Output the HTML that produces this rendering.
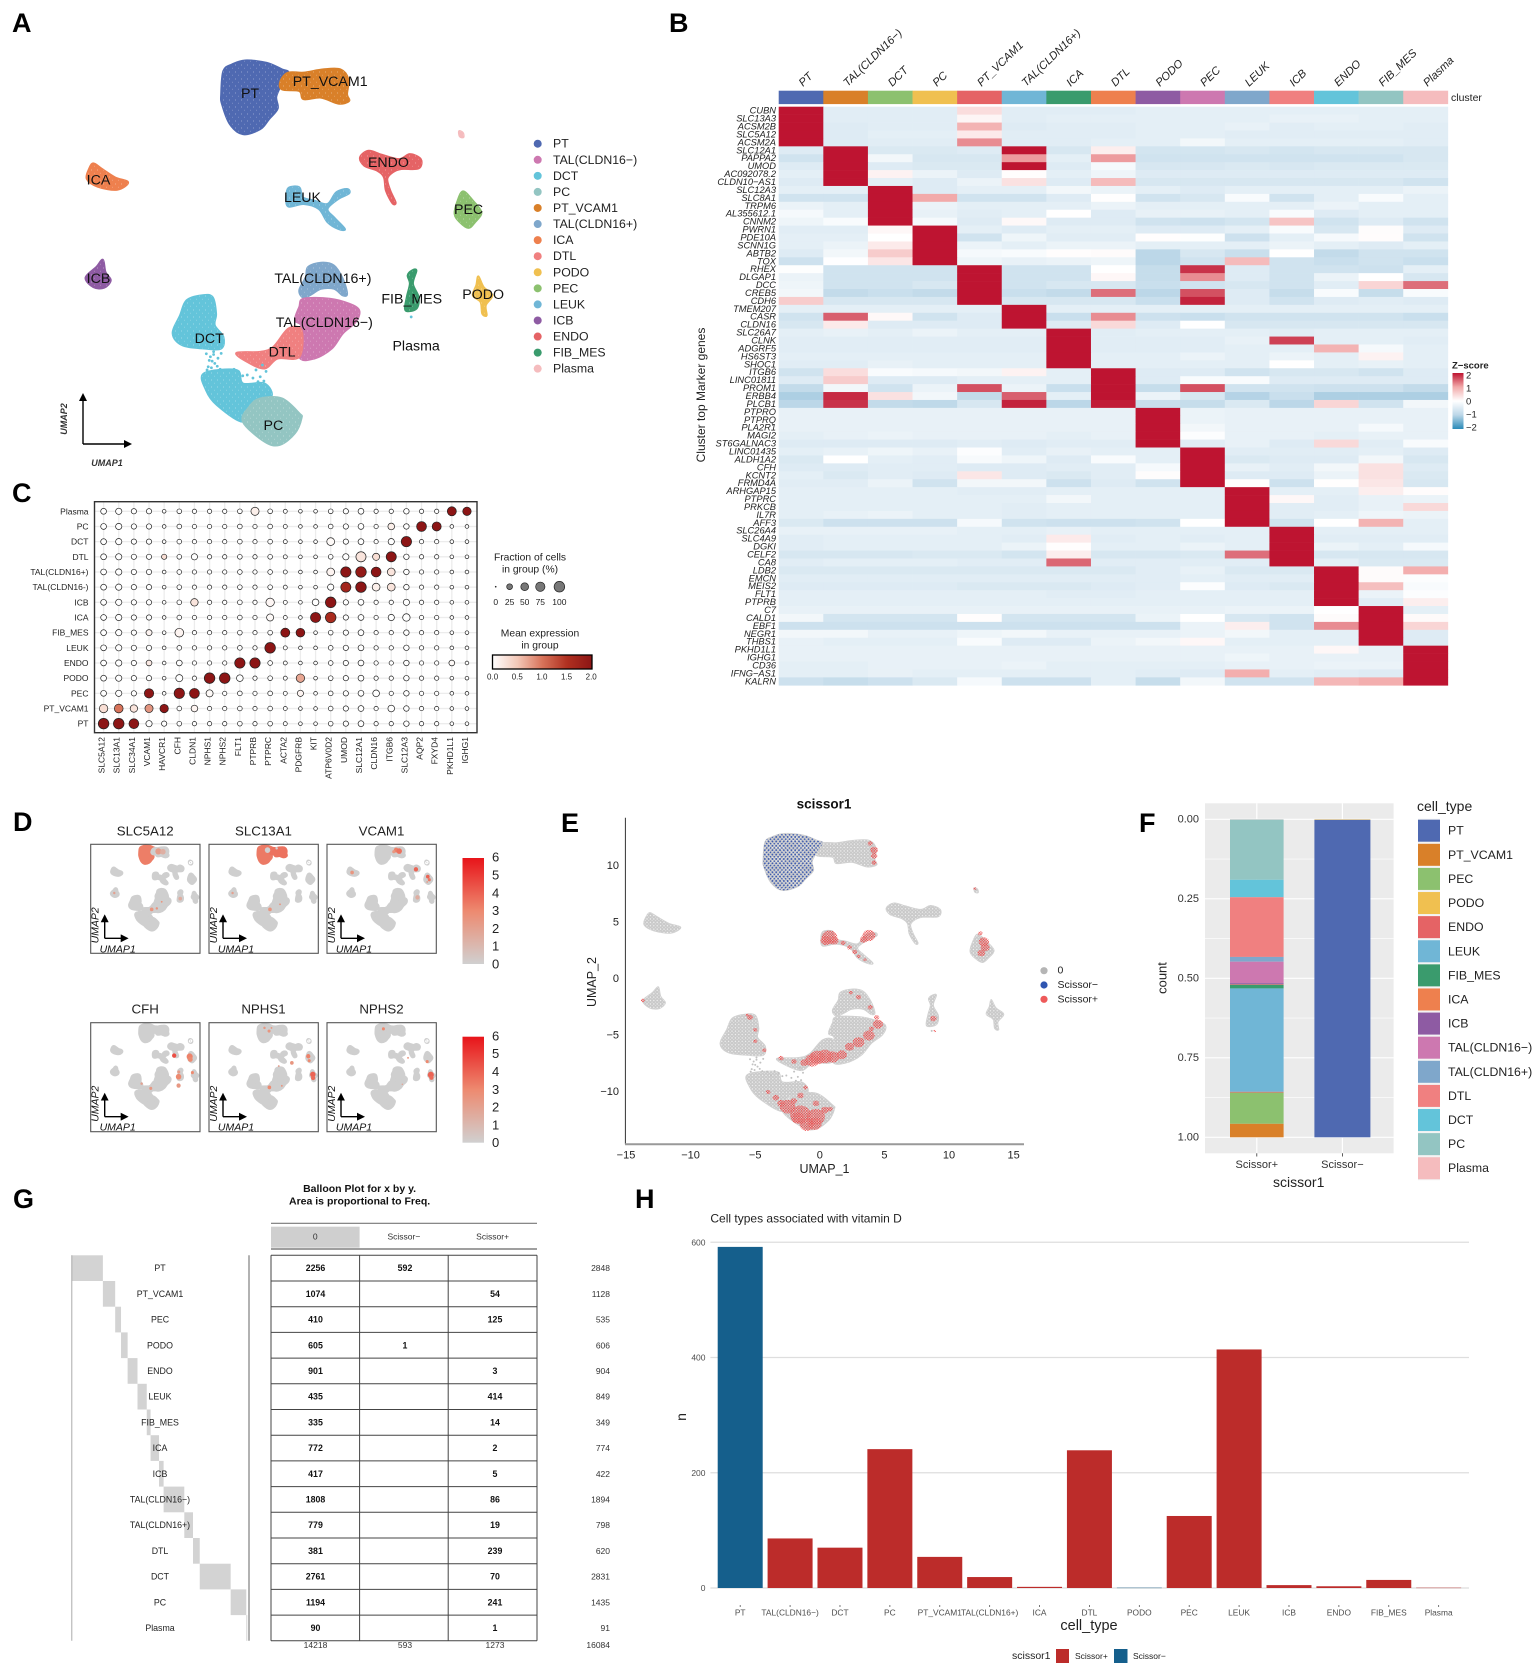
<!DOCTYPE html>
<html lang="en">
<head>
<meta charset="utf-8">
<title>Single-cell kidney atlas figure</title>
<style>
html,body{margin:0;padding:0;background:#fff;width:1535px;height:1663px;overflow:hidden}
svg{display:block;font-family:"Liberation Sans",Arial,sans-serif;fill:#111;filter:blur(.3px)}
.letter{font-size:27px;font-weight:700;fill:#000}
</style>
</head>
<body>
<svg id="figure" xmlns="http://www.w3.org/2000/svg" width="1535" height="1663" viewBox="0 0 1535 1663">
<defs>
<pattern id="speck-a" width="6" height="7" patternUnits="userSpaceOnUse"><circle cx="1.5" cy="2" r=".45" fill="#fff" fill-opacity=".55"/><circle cx="4.5" cy="5.2" r=".4" fill="#fff" fill-opacity=".45"/></pattern>
<pattern id="speck-e" width="3.4" height="3.4" patternUnits="userSpaceOnUse"><circle cx="1" cy="1" r=".7" fill="#fff" fill-opacity=".8"/><circle cx="2.7" cy="2.6" r=".55" fill="#fff" fill-opacity=".65"/></pattern>
<pattern id="blue-dots" width="3.8" height="4.4" patternUnits="userSpaceOnUse"><circle cx="1" cy="1" r=".95" fill="#3a58ad"/><circle cx="2.9" cy="3.2" r=".85" fill="#3a58ad"/></pattern>
<pattern id="red-dots" width="2.6" height="2.6" patternUnits="userSpaceOnUse"><circle cx=".7" cy=".7" r=".85" fill="#ee5050"/><circle cx="2" cy="2" r=".75" fill="#ee5050"/></pattern>
<linearGradient id="zscore-gradient" x1="0" y1="0" x2="0" y2="1"><stop offset="0" stop-color="#be1431"/><stop offset=".25" stop-color="#f2aaaa"/><stop offset=".5" stop-color="#fff"/><stop offset=".75" stop-color="#bcd7e8"/><stop offset="1" stop-color="#2a8ab8"/></linearGradient>
<linearGradient id="mean-gradient" x1="0" y1="0" x2="1" y2="0"><stop offset="0" stop-color="#fff"/><stop offset=".25" stop-color="#f3c8b8"/><stop offset=".5" stop-color="#d8735a"/><stop offset=".75" stop-color="#b03020"/><stop offset="1" stop-color="#8c1515"/></linearGradient>
<linearGradient id="feature-gradient" x1="0" y1="0" x2="0" y2="1"><stop offset="0" stop-color="#e8141a"/><stop offset=".5" stop-color="#ed8a70"/><stop offset="1" stop-color="#d0d0d0"/></linearGradient>
<marker id="arrow-head" markerWidth="8" markerHeight="8" refX="1" refY="4" orient="auto" markerUnits="userSpaceOnUse"><path d="M0,0 L8,4 L0,8 Z" fill="#000"/></marker>
</defs>

<g id="panel-a">
<text class="letter" x="12" y="32">A</text>
<path d="M83,444 V400" stroke="#000" stroke-width="1.4" fill="none" marker-end="url(#arrow-head)"/>
<path d="M83,444 H125" stroke="#000" stroke-width="1.4" fill="none" marker-end="url(#arrow-head)"/>
<text x="64" y="419" transform="rotate(-90 64 419)" text-anchor="middle" dominant-baseline="central" font-size="9" font-style="italic" font-weight="700" fill="#333">UMAP2</text>
<text x="107" y="463" text-anchor="middle" dominant-baseline="central" font-size="9" font-style="italic" font-weight="700" fill="#333">UMAP1</text>
</g>

<g id="panel-b">
<text class="letter" x="669" y="32">B</text>
<text x="701" y="395" transform="rotate(-90 701 395)" text-anchor="middle" dominant-baseline="central" font-size="12" fill="#222">Cluster top Marker genes</text>
<text x="1451" y="98" dominant-baseline="central" font-size="10.5" fill="#222">cluster</text>
<text x="1452" y="366" dominant-baseline="central" font-size="9.5" font-weight="700" fill="#222">Z−score</text>
<rect x="1452.5" y="373" width="11" height="56" fill="url(#zscore-gradient)"/>
<text x="1466" y="376" dominant-baseline="central" font-size="9.5" fill="#222">2</text>
<text x="1466" y="389" dominant-baseline="central" font-size="9.5" fill="#222">1</text>
<text x="1466" y="402" dominant-baseline="central" font-size="9.5" fill="#222">0</text>
<text x="1466" y="415" dominant-baseline="central" font-size="9.5" fill="#222">−1</text>
<text x="1466" y="428" dominant-baseline="central" font-size="9.5" fill="#222">−2</text>
</g>

<g id="panel-c">
<text class="letter" x="12" y="502">C</text>
<text x="530" y="558" text-anchor="middle" dominant-baseline="central" font-size="10.3" fill="#222">Fraction of cells</text>
<text x="530" y="570" text-anchor="middle" dominant-baseline="central" font-size="10.3" fill="#222">in group (%)</text>
<text x="540" y="634" text-anchor="middle" dominant-baseline="central" font-size="10.3" fill="#222">Mean expression</text>
<text x="540" y="646" text-anchor="middle" dominant-baseline="central" font-size="10.3" fill="#222">in group</text>
<rect x="492.5" y="655" width="99.5" height="14" fill="url(#mean-gradient)" stroke="#000" stroke-width="1.3"/>
</g>

<g id="panel-d">
<text class="letter" x="13" y="831">D</text>
<rect x="462.5" y="858" width="21.5" height="106" fill="url(#feature-gradient)"/>
<rect x="462.5" y="1036.7" width="21.5" height="106" fill="url(#feature-gradient)"/>
</g>

<g id="panel-e">
<text class="letter" x="561" y="832">E</text>
<text x="824" y="804" text-anchor="middle" dominant-baseline="central" font-size="13.5" font-weight="700" fill="#111">scissor1</text>
<text x="824.5" y="1169" text-anchor="middle" dominant-baseline="central" font-size="12.5" fill="#222">UMAP_1</text>
<text x="592" y="982" transform="rotate(-90 592 982)" text-anchor="middle" dominant-baseline="central" font-size="12.5" fill="#222">UMAP_2</text>
<circle cx="1044" cy="970.7" r="3.6" fill="#b5b5b5"/>
<circle cx="1044" cy="985" r="3.6" fill="#2f55b0"/>
<circle cx="1044" cy="999.3" r="3.6" fill="#ee5a5a"/>
<text x="1057.5" y="970.7" dominant-baseline="central" font-size="10.5" fill="#222">0</text>
<text x="1057.5" y="985" dominant-baseline="central" font-size="10.5" fill="#222">Scissor−</text>
<text x="1057.5" y="999.3" dominant-baseline="central" font-size="10.5" fill="#222">Scissor+</text>
</g>

<g id="panel-f">
<text class="letter" x="1139" y="832">F</text>
<rect x="1205" y="803.3" width="188.6" height="350" fill="#ebebeb"/>
<text x="1298.7" y="1182" text-anchor="middle" dominant-baseline="central" font-size="14" fill="#222">scissor1</text>
<text x="1162" y="978" transform="rotate(-90 1162 978)" text-anchor="middle" dominant-baseline="central" font-size="13" fill="#222">count</text>
<text x="1417" y="806" dominant-baseline="central" font-size="14" fill="#222">cell_type</text>
</g>

<g id="panel-g">
<text class="letter" x="13" y="1208">G</text>
<text x="359.6" y="1189" text-anchor="middle" dominant-baseline="central" font-size="10.5" font-weight="700" fill="#111">Balloon Plot for x by y.</text>
<text x="359.6" y="1201.7" text-anchor="middle" dominant-baseline="central" font-size="10.5" font-weight="700" fill="#111">Area is proportional to Freq.</text>
</g>

<g id="panel-h">
<text class="letter" x="635" y="1208">H</text>
<text x="710.4" y="1218.7" dominant-baseline="central" font-size="12" fill="#222">Cell types associated with vitamin D</text>
<text x="1089" y="1626" text-anchor="middle" dominant-baseline="central" font-size="14.5" fill="#222">cell_type</text>
<text x="681" y="1417" transform="rotate(-90 681 1417)" text-anchor="middle" dominant-baseline="central" font-size="14" fill="#222">n</text>
<text x="1012" y="1656" dominant-baseline="central" font-size="10.5" fill="#222">scissor1</text>
<rect x="1056" y="1649" width="13" height="14" fill="#bc2c2a"/>
<text x="1075" y="1656" dominant-baseline="central" font-size="8.5" fill="#222">Scissor+</text>
<rect x="1114" y="1649" width="13.5" height="14" fill="#155f8c"/>
<text x="1133" y="1656" dominant-baseline="central" font-size="8.5" fill="#222">Scissor−</text>
</g>
</svg>

<script>
/* ---------- shared data ---------- */
const cellTypes = ["PT","PT_VCAM1","PEC","PODO","ENDO","LEUK","FIB_MES","ICA","ICB","TAL(CLDN16−)","TAL(CLDN16+)","DTL","DCT","PC","Plasma"];
const typeColors = ["#4f69b1","#d98029","#8cc16f","#f0c050","#e56365","#70b6d6","#3a9b6d","#ee804e","#8e5ba3","#cd78b0","#7fa7cb","#f08080","#63c4da","#93c5c2","#f5bcbe"];
const countUnassigned = [2256,1074,410,605,901,435,335,772,417,1808,779,381,2761,1194,90];
const countScissorMinus = [592,0,0,1,0,0,0,0,0,0,0,0,0,0,0];
const countScissorPlus = [0,54,125,0,3,414,14,2,5,86,19,239,70,241,1];

/* UMAP cluster outlines, in UMAP coordinates */
const outlinePT = [[-2.74,12.87],[-1.25,12.71],[-0.21,12.26],[0.24,12.04],[-0.2,11.3],[-0.6,10.4],[-0.5,9.6],[-1.10,8.87],[-1.70,8.19],[-2.89,7.85],[-3.78,8.53],[-4.32,9.89],[-4.38,10.57],[-4.23,12.15],[-3.63,12.60]];
const outlineVCAM = [[0.24,12.04],[1.28,12.04],[2.62,12.26],[3.81,12.26],[4.35,11.58],[4.26,10.57],[4.40,10.11],[3.66,9.93],[2.47,10.34],[1.28,10.23],[0.98,10.79],[-0.21,10.90],[-0.3,11.5]];
const outlineICA = [[-13.15,5.86],[-12.56,5.48],[-11.67,4.91],[-10.77,4.57],[-11.52,4.07],[-12.86,4.28],[-13.60,4.80],[-13.45,5.48]];
const outlineICB = [[-12.5,-0.70],[-12.32,-1.54],[-11.96,-2.10],[-12.41,-2.60],[-13.15,-2.56],[-13.69,-1.92],[-12.95,-1.20]];
const outlineENDO = [[5.15,6.27],[5.74,6.72],[6.64,6.45],[7.83,6.15],[8.57,6.49],[9.32,6.15],[9.17,5.52],[7.98,5.48],[7.38,5.25],[7.02,4.80],[7.23,4.0],[7.59,3.21],[7.38,3.14],[6.93,4.0],[6.79,4.91],[6.34,5.36],[5.45,5.70]];
const outlineLEUK = [[0.24,4.19],[0.98,4.23],[1.22,3.55],[2.02,3.33],[2.92,3.10],[3.51,3.89],[4.26,4.12],[4.40,3.82],[3.66,3.44],[2.92,2.76],[3.36,2.19],[4.11,1.40],[3.66,1.40],[2.92,1.86],[2.32,2.76],[1.28,3.10],[0.24,2.92],[0.09,3.55]];
const outlinePEC = [[12.23,3.96],[12.89,3.33],[13.48,2.53],[13.04,1.86],[12.59,1.47],[12.0,1.86],[11.64,2.42],[11.85,3.33]];
const outlineTALplus = [[2.47,-0.90],[3.36,-1.09],[3.96,-1.99],[4.26,-3.01],[3.96,-3.12],[3.36,-2.67],[2.47,-2.67],[1.88,-3.01],[1.28,-3.28],[0.98,-2.78],[1.43,-1.88],[1.58,-1.20]];
const outlineTALminus = [[1.28,-3.35],[3.07,-3.35],[4.40,-3.69],[5.09,-4.14],[4.85,-4.93],[3.96,-5.72],[3.21,-6.74],[2.02,-7.42],[0.98,-7.31],[1.13,-5.27],[0.68,-4.82],[0.98,-3.91]];
const outlineDTL = [[0.24,-5.38],[1.13,-5.50],[0.98,-7.31],[-0.51,-7.42],[-1.40,-8.10],[-2.59,-7.65],[-3.33,-7.04],[-1.70,-6.97],[-0.80,-6.63]];
const outlineDCTupper = [[-5.71,-3.12],[-4.97,-3.24],[-4.73,-4.37],[-4.82,-5.16],[-4.23,-5.95],[-4.38,-6.74],[-5.57,-6.74],[-7.05,-6.52],[-7.71,-5.72],[-7.20,-4.48],[-6.76,-3.46]];
const outlineDCTlower = [[-5.57,-8.44],[-3.33,-8.21],[-2.89,-9.12],[-1.40,-9.12],[-0.95,-10.02],[-2.44,-10.48],[-2.89,-11.72],[-4.67,-10.59],[-5.42,-9.57]];
const outlinePC = [[-1.70,-10.14],[-0.21,-10.14],[0.98,-11.15],[1.13,-11.49],[0.68,-12.51],[-0.36,-13.30],[-1.40,-13.08],[-2.89,-11.72],[-2.44,-10.70]];
const outlineFIB = [[8.72,-1.43],[9.02,-1.43],[8.78,-2.33],[9.17,-3.24],[9.02,-4.03],[8.27,-4.14],[8.36,-3.24],[8.57,-2.33],[8.42,-1.76]];
const outlinePODO = [[13.27,-1.83],[13.63,-2.56],[14.23,-3.12],[13.78,-3.80],[13.84,-4.48],[13.54,-4.37],[13.42,-3.57],[12.89,-3.12],[13.13,-2.44]];
const outlinePlasma = [[11.95,8.05],[12.2,7.95],[12.25,7.65],[12.0,7.7]];
const umapDrawOrder = ["DCT","DCT","PC","TAL(CLDN16+)","TAL(CLDN16−)","DTL","PT","PT_VCAM1","ICA","ICB","ENDO","LEUK","PEC","FIB_MES","PODO","Plasma"];
const umapOutlines = [outlineDCTupper,outlineDCTlower,outlinePC,outlineTALplus,outlineTALminus,outlineDTL,outlinePT,outlineVCAM,outlineICA,outlineICB,outlineENDO,outlineLEUK,outlinePEC,outlineFIB,outlinePODO,outlinePlasma];
const strayDCT = [[-5.12,-7.30],[-4.82,-7.75],[-4.38,-7.07],[-5.27,-7.98],[-4.08,-8.20],[-3.78,-8.54],[-3.18,-8.32],[-1.99,-8.20],[-1.55,-7.86],[-1.70,-8.66],[-1.85,-9.0],[-2.59,-8.54],[-5.0,-7.6],[-4.6,-7.4],[8.66,-4.59],[-5.4,-7.1],[-5.2,-7.55],[-4.9,-7.15],[-4.65,-7.95],[-5.35,-8.2],[-5.05,-8.05],[-4.45,-8.15],[-4.9,-6.95],[-1.3,-8.3],[-1.45,-8.95],[-2.2,-8.75],[-2.9,-8.6],[-3.5,-8.15]];

/* ---------- helpers ---------- */
const NS = "http://www.w3.org/2000/svg";
function add(parent, tag, attrs, text) {
  const el = document.createElementNS(NS, tag);
  for (const k in attrs) el.setAttribute(k, attrs[k]);
  if (text !== undefined) el.textContent = text;
  parent.appendChild(el);
  return el;
}
function blobPath(pts, x, y) {
  const n = pts.length;
  let d = "M" + x(pts[0][0]).toFixed(2) + "," + y(pts[0][1]).toFixed(2);
  for (let i = 0; i < n; i++) {
    const p0 = pts[(i - 1 + n) % n], p1 = pts[i], p2 = pts[(i + 1) % n], p3 = pts[(i + 2) % n];
    const c1x = x(p1[0]) + (x(p2[0]) - x(p0[0])) / 6, c1y = y(p1[1]) + (y(p2[1]) - y(p0[1])) / 6;
    const c2x = x(p2[0]) - (x(p3[0]) - x(p1[0])) / 6, c2y = y(p2[1]) - (y(p3[1]) - y(p1[1])) / 6;
    d += "C" + c1x.toFixed(2) + "," + c1y.toFixed(2) + " " + c2x.toFixed(2) + "," + c2y.toFixed(2) + " " + x(p2[0]).toFixed(2) + "," + y(p2[1]).toFixed(2);
  }
  return d + "Z";
}
function typeColor(name) { return typeColors[cellTypes.indexOf(name)]; }
function lerpStops(stops, t) {
  for (let i = 1; i < stops.length; i++) {
    if (t <= stops[i][0]) {
      const a = stops[i - 1], b = stops[i], f = (t - a[0]) / (b[0] - a[0]);
      const c = [1, 2, 3].map(j => Math.round(a[j] + (b[j] - a[j]) * f));
      return "rgb(" + c.join(",") + ")";
    }
  }
  const l = stops[stops.length - 1];
  return "rgb(" + l[1] + "," + l[2] + "," + l[3] + ")";
}

/* ---------- Panel A ---------- */
const panelA = document.getElementById("panel-a");
const clusterLabelNames = ["PT","PT_VCAM1","ENDO","ICA","LEUK","PEC","ICB","TAL(CLDN16+)","FIB_MES","PODO","TAL(CLDN16−)","DCT","DTL","Plasma","PC"];
const clusterLabelU = [-2.4,3.1,7.1,-12.8,1.2,12.6,-12.8,2.6,8.7,13.6,2.7,-5.2,-0.2,9.0,-0.8];
const clusterLabelV = [10.6,11.4,5.9,4.7,3.5,2.7,-2,-2,-3.4,-3.1,-5,-6.1,-7,-6.6,-12];
const legendOrderA = ["PT","TAL(CLDN16−)","DCT","PC","PT_VCAM1","TAL(CLDN16+)","ICA","DTL","PODO","PEC","LEUK","ICB","ENDO","FIB_MES","Plasma"];
const ax = u => 285 + 14.57 * u;
const ay = v => 249.5 - 14.69 * v;
umapOutlines.forEach((pts, i) => {
  const name = umapDrawOrder[i];
  const col = typeColor(name);
  const blob = add(panelA, "path", {d: blobPath(pts, ax, ay), fill: col, stroke: col, "stroke-width": 2, "stroke-linejoin": "round"});
  
  
  const speck = add(panelA, "path", {d: blobPath(pts, ax, ay), fill: "url(#speck-a)"});
  
  
});
strayDCT.forEach(p => {
  const dot = add(panelA, "circle", {cx: ax(p[0]), cy: ay(p[1]), r: 1.4, fill: typeColor("DCT")});
  
  
});
clusterLabelNames.forEach((name, i) => {
  const t = add(panelA, "text", {x: ax(clusterLabelU[i]), y: ay(clusterLabelV[i]), "text-anchor": "middle", "dominant-baseline": "central", "font-size": 14.2, fill: "#111"}, name);
  
  
});
legendOrderA.forEach((name, i) => {
  const y = 143.7 + i * 16.07;
  const d = add(panelA, "circle", {cx: 537.7, cy: y, r: 4, fill: typeColor(name)});
  
  
  const t = add(panelA, "text", {x: 553, y: y, "dominant-baseline": "central", "font-size": 12.3, fill: "#222"}, name);
  
  
});

/* ---------- Panel B heatmap ---------- */
const heatColumns = ["PT","TAL(CLDN16−)","DCT","PC","PT_VCAM1","TAL(CLDN16+)","ICA","DTL","PODO","PEC","LEUK","ICB","ENDO","FIB_MES","Plasma"];
const heatGenes = ["CUBN","SLC13A3","ACSM2B","SLC5A12","ACSM2A","SLC12A1","PAPPA2","UMOD","AC092078.2","CLDN10−AS1","SLC12A3","SLC8A1","TRPM6","AL355612.1","CNNM2","PWRN1","PDE10A","SCNN1G","ABTB2","TOX","RHEX","DLGAP1","DCC","CREB5","CDH6","TMEM207","CASR","CLDN16","SLC26A7","CLNK","ADGRF5","HS6ST3","SHOC1","ITGB6","LINC01811","PROM1","ERBB4","PLCB1","PTPRO","PTPRQ","PLA2R1","MAGI2","ST6GALNAC3","LINC01435","ALDH1A2","CFH","KCNT2","FRMD4A","ARHGAP15","PTPRC","PRKCB","IL7R","AFF3","SLC26A4","SLC4A9","DGKI","CELF2","CA8","LDB2","EMCN","MEIS2","FLT1","PTPRB","C7","CALD1","EBF1","NEGR1","THBS1","PKHD1L1","IGHG1","CD36","IFNG−AS1","KALRN"];
const heatValues = [
[2,-.45,-.45,-.45,.4,-.45,-.45,-.45,-.4,-.4,-.4,-.4,-.4,-.4,-.4],
[2,-.45,-.45,-.45,.12,-.45,-.4,-.4,-.4,-.4,-.4,-.35,-.35,-.4,-.4],
[2,-.5,-.45,-.45,.9,-.5,-.45,-.45,-.4,-.4,-.35,-.45,-.4,-.4,-.45],
[2,-.5,-.4,-.4,.25,-.45,-.45,-.45,-.4,-.4,-.45,-.45,-.45,-.45,-.45],
[2,-.5,-.45,-.45,1.2,-.45,-.45,-.4,-.4,-.2,-.4,-.4,-.4,-.4,-.45],
[-.5,2,-.55,-.55,-.5,2,-.6,.2,-.65,-.65,-.6,-.65,-.6,-.6,-.6],
[-.7,2,-.2,-.6,-.6,1.1,-.4,1.1,-.7,-.7,-.7,-.7,-.7,-.7,-.6],
[-.5,2,-.5,-.55,-.55,2,-.5,-.15,-.6,-.6,-.55,-.6,-.55,-.55,-.55],
[-.4,2,.15,-.3,-.5,.02,-.4,-.25,-.5,-.5,-.5,-.5,-.5,-.5,-.5],
[-.5,2,-.4,-.5,-.3,.35,-.5,.8,-.6,-.6,-.6,-.6,-.6,-.6,-.7],
[-.4,-.4,2,-.5,-.4,-.4,-.2,-.3,-.4,-.5,-.4,-.4,-.4,-.4,-.3],
[-.7,-.7,2,1.0,-.7,-.7,-.5,.01,-.7,-.6,-.1,-.7,-.4,-.1,-.4],
[-.3,-.4,2,-.3,-.4,-.4,-.4,-.3,-.4,-.4,-.4,-.4,-.3,-.4,-.4],
[-.15,-.4,2,-.35,-.45,-.4,0,-.5,-.35,-.35,-.4,-.1,-.5,-.4,-.4],
[-.25,-.1,2,-.15,-.5,.08,-.5,-.5,-.7,-.75,-.65,.7,-.7,-.5,-.7],
[-.45,-.45,.1,2,-.4,-.5,-.4,-.4,-.5,-.5,-.4,-.1,-.6,.04,-.5],
[-.4,-.4,0,2,-.7,-.25,-.45,-.45,.02,-.03,-.75,-.4,-.15,.03,-.7],
[-.4,-.3,.25,2,-.3,-.4,-.3,-.3,-.4,-.4,-.4,-.3,-.4,-.5,-.4],
[-.5,-.2,.6,2,-.15,-.1,.02,.05,-1,-.6,-.8,0,-.9,-.7,-.7],
[-.75,-.02,.3,2,-.25,-.35,-.3,-.25,-1,-.7,.8,-.7,-.8,-.7,-.8],
[-.03,-.7,-.7,-.7,2,-.7,-.7,0,-.85,1.8,-.5,-.7,-.7,-.75,-.4],
[-.3,-.7,-.7,-.7,2,-.7,-.7,.1,-.85,1.2,-.5,-.7,-.3,0,-.6],
[-.25,-.7,-.7,-.6,2,-.7,-.6,-.6,-.8,-.7,-.6,-.7,-.45,.5,1.4],
[-.2,-.9,-.8,-.9,2,-.8,-.9,1.4,-1,1.6,-.5,-.85,-.1,-.85,-.1],
[.6,-.6,-.6,-.6,2,-.6,-.6,-.6,-.8,1.9,-.5,-.7,-.5,-.45,-.5],
[-.4,-.4,-.4,-.4,-.4,2,-.4,-.4,-.4,-.4,-.4,-.4,-.4,-.4,-.4],
[-.7,1.5,.08,-.7,-.5,2,-.8,1.2,-.75,-.8,-.7,-.7,-.7,-.7,-.8],
[-.6,.25,-.5,-.5,-.5,2,-.5,.45,-.5,0,-.6,-.6,-.6,-.6,-.6],
[-.4,-.35,-.4,-.3,-.4,-.4,2,-.45,-.4,-.4,-.4,-.45,-.4,-.4,-.4],
[-.45,-.45,-.45,-.45,-.45,-.45,2,-.45,-.45,-.45,-.35,1.7,-.4,-.4,-.45],
[-.45,-.45,-.45,-.45,-.45,-.45,2,-.45,-.45,-.45,-.4,-.4,.9,-.15,-.4],
[-.4,-.4,-.4,-.4,-.4,-.4,2,-.4,-.4,-.3,-.4,-.3,-.4,.15,-.4],
[-.45,-.45,-.35,-.4,-.4,-.4,2,-.4,-.4,-.4,-.4,0,-.4,-.35,-.4],
[-.7,.4,-.1,-.15,-.2,.15,-.4,2,-.5,-.5,-.7,-.6,-.6,-.7,-.5],
[-.5,.6,-.5,-.5,-.4,-.4,-.4,2,-.5,-.1,-.1,-.5,-.5,-.5,-.5],
[-.9,-.2,-.7,-.3,1.6,-.3,-.8,2,-.85,1.6,-.7,-.7,-.75,-.75,-.9],
[-1.1,1.85,.35,-.2,-.9,1.5,-.4,2,-.3,-.6,-1.05,-.8,-1.1,-1.1,-1.1],
[-1,1.8,-.9,-.95,-.6,1.9,-1,1.95,-.8,-.85,-.55,-1,.5,-.7,-.2],
[-.35,-.35,-.35,-.35,-.35,-.35,-.35,-.35,2,-.3,-.35,-.35,-.35,-.35,-.35],
[-.35,-.35,-.35,-.35,-.35,-.35,-.35,-.35,2,-.3,-.35,-.35,-.35,-.35,-.35],
[-.35,-.35,-.35,-.35,-.35,-.35,-.35,-.35,2,-.2,-.35,-.35,-.35,-.15,-.35],
[-.4,-.35,-.3,-.35,-.35,-.35,-.4,-.35,2,-.05,-.35,-.35,-.4,-.35,-.35],
[-.5,-.5,-.5,-.5,-.45,-.5,-.45,-.45,2,-.45,-.35,-.5,.45,-.45,-.1],
[-.4,-.35,-.25,-.35,-.05,-.45,-.35,-.4,-.4,2,-.45,-.45,-.45,-.4,-.5],
[-.55,0,-.4,-.45,-.12,-.25,-.5,-.1,-.4,2,-.55,-.5,-.5,-.2,-.6],
[-.5,-.5,-.45,-.45,-.5,-.5,-.45,-.45,-.15,2,-.35,-.45,-.2,.35,-.5],
[-.4,-.55,-.45,-.5,.3,-.5,-.55,-.45,.04,2,-.5,-.5,-.3,.35,-.55],
[-.45,-.45,-.3,-.7,-.2,-.2,-.75,-.5,-.7,2,.02,-.75,.01,.3,-.6],
[-.4,-.4,-.4,-.4,-.45,-.45,-.4,-.4,-.4,-.4,2,-.4,-.4,.2,.03],
[-.4,-.4,-.4,-.4,-.4,-.4,-.2,-.4,-.4,-.4,2,.1,-.45,-.35,-.3],
[-.4,-.4,-.4,-.4,-.4,-.45,-.4,-.4,-.4,-.4,2,-.45,-.45,-.35,.45],
[-.4,-.35,-.3,-.4,-.4,-.45,-.4,-.4,-.4,-.4,2,-.45,-.4,-.25,-.3],
[-.55,-.75,-.75,-.75,-.15,-.7,-.75,-.75,-.7,0,2,-.7,0,.9,-.4],
[-.35,-.35,-.35,-.35,-.4,-.4,-.35,-.4,-.4,-.4,-.4,2,-.4,-.4,-.4],
[-.45,-.4,-.4,-.4,-.4,-.45,.25,-.45,-.4,-.45,-.4,2,-.45,-.45,-.45],
[-.45,-.4,-.4,-.4,-.4,-.3,.02,-.4,-.4,-.3,-.4,2,-.3,-.4,-.15],
[-.6,-.6,-.6,-.55,-.55,-.65,.2,-.6,-.6,-.55,1.4,2,-.6,-.6,-.6],
[-.45,-.4,-.4,-.4,-.45,-.45,1.45,-.45,-.45,-.45,-.45,2,-.4,-.55,-.55],
[-.55,-.55,-.55,-.55,-.55,-.55,-.55,-.55,-.45,-.35,-.55,-.55,2,.05,.95],
[-.45,-.45,-.45,-.45,-.45,-.45,-.45,-.45,-.45,-.4,-.45,-.45,2,.05,-.05],
[-.5,-.5,-.5,-.5,-.55,-.55,-.55,-.5,-.45,-.05,-.5,-.55,2,.75,-.1],
[-.4,-.4,-.4,-.4,-.4,-.4,-.45,-.45,-.4,-.4,-.4,-.4,2,-.3,-.05],
[-.4,-.4,-.4,-.4,-.4,-.4,-.4,-.4,-.4,-.4,-.4,-.4,2,-.45,.2],
[-.35,-.35,-.35,-.35,-.35,-.35,-.35,-.35,-.35,-.35,-.3,-.3,0,2,-.4],
[-.2,-.65,-.65,-.65,.02,-.65,-.65,-.65,-.3,0,-.6,-.7,.05,2,.06],
[-.75,-.75,-.75,-.75,-.75,-.75,-.75,-.75,-.75,-.3,.2,-.7,1.2,2,.5],
[-.2,-.2,-.35,-.35,-.25,-.2,-.35,-.35,-.35,-.3,-.2,-.4,-.4,2,-.5],
[-.35,-.4,-.4,-.4,-.1,-.5,-.5,-.3,-.2,.1,-.4,-.4,-.4,2,-.5],
[-.35,-.35,-.35,-.35,-.35,-.35,-.35,-.35,-.35,-.35,-.35,-.35,.1,-.35,2],
[-.35,-.35,-.35,-.35,-.35,-.35,-.35,-.35,-.35,-.35,-.25,-.35,-.35,-.35,2],
[-.4,-.4,-.35,-.35,-.35,-.3,-.4,-.4,-.4,-.4,-.35,-.35,-.3,-.3,2],
[-.4,-.4,-.35,-.4,-.4,-.4,-.4,-.4,-.45,-.5,.95,-.4,-.45,-.5,2],
[-.75,-.85,-.75,-.55,-.15,-.75,-.75,-.4,-.85,-.2,-.7,-.7,.85,.95,2]
];
const zStops = [[-2,42,138,184],[-1,188,215,232],[0,255,255,255],[1,242,170,170],[2,190,20,49]];
const panelB = document.getElementById("panel-b");
const heatLeft = 778.7, heatColW = 44.61, heatTop = 106.7, heatRowH = 7.926;
const heatX = c => heatLeft + c * heatColW;
const heatY = r => heatTop + r * heatRowH;
heatColumns.forEach((name, c) => {
  const a = add(panelB, "rect", {x: heatX(c), y: 90.7, width: heatColW + .3, height: 13.4, fill: typeColors[c]});
  
  
  const cx = heatX(c) + heatColW / 2 + 2;
  const t = add(panelB, "text", {x: cx, y: 87, transform: "rotate(-44 " + cx + " 87)", "font-size": 11.2, "font-style": "italic", fill: "#222"}, name);
  
  
});
heatValues.forEach((row, r) => {
  const g = add(panelB, "text", {x: 776, y: heatY(r) + heatRowH / 2, "text-anchor": "end", "dominant-baseline": "central", "font-size": 9.3, "font-style": "italic", fill: "#222"}, heatGenes[r]);
  
  
  row.forEach((val, c) => {
    const cell = add(panelB, "rect", {x: heatX(c), y: heatY(r), width: heatColW + .3, height: heatRowH + .3, fill: lerpStops(zStops, val)});
    
    
  });
});

/* ---------- Panel C dot plot ---------- */
const dotRows = ["Plasma","PC","DCT","DTL","TAL(CLDN16+)","TAL(CLDN16-)","ICB","ICA","FIB_MES","LEUK","ENDO","PODO","PEC","PT_VCAM1","PT"];
const dotGenes = ["SLC5A12","SLC13A1","SLC34A1","VCAM1","HAVCR1","CFH","CLDN1","NPHS1","NPHS2","FLT1","PTPRB","PTPRC","ACTA2","PDGFRB","KIT","ATP6V0D2","UMOD","SLC12A1","CLDN16","ITGB6","SLC12A3","AQP2","FXYD4","PKHD1L1","IGHG1"];
const dotBaseFraction = [25,30,20,20,8,15,12,12,12,15,12,15,10,8,8,15,20,25,12,12,22,12,12,8,8];
/* row index, gene index, fraction %, mean expression */
const dotHighlights = [
[0,10,55,.15],[0,23,70,2],[0,24,60,2],[1,19,35,.15],[1,21,85,2],[1,22,70,2],
[2,15,50,.05],[2,20,95,2],[2,19,30,0],[3,4,20,.3],[3,6,30,0],[3,16,30,0],[3,17,90,.25],[3,18,40,.3],[3,19,90,2],
[4,15,50,.1],[4,16,95,2],[4,17,100,1.9],[4,18,85,2],[4,19,50,.25],[5,15,30,0],[5,16,90,1.7],[5,17,100,2],[5,18,50,.15],[5,19,50,.25],
[6,6,45,.25],[6,11,60,.08],[6,14,35,0],[6,15,100,2],[6,20,30,0],[7,11,40,.05],[7,14,90,2],[7,15,100,1.6],[7,19,30,0],[7,20,45,0],
[8,3,28,.1],[8,5,65,.1],[8,12,70,2],[8,13,65,2],[9,11,100,2],[10,3,25,.2],[10,5,25,0],[10,9,95,2],[10,10,95,2],[10,23,25,.05],
[11,5,40,0],[11,7,100,2],[11,8,100,2],[11,9,35,0],[11,13,60,.7],[12,3,75,2],[12,5,95,2],[12,6,85,2],[12,7,40,.05],[12,13,30,.1],[12,18,35,0],
[13,0,60,.3],[13,1,65,1],[13,2,45,.25],[13,3,55,.8],[13,4,60,2],[13,6,35,.1],[13,19,35,0],[14,0,100,2],[14,1,100,2],[14,2,85,2],[14,3,30,0],[14,4,20,0]
];
const fractionTicks = [0,25,50,75,100];
const meanTicks = [0,.5,1,1.5,2];
const meanStops = [[0,255,255,255],[.5,243,200,184],[1,216,115,90],[1.5,176,48,32],[2,140,21,21]];
const panelC = document.getElementById("panel-c");
const dotX = g => 103.6 + g * 15.14;
const dotY = r => 511.3 + r * 15.17;
const dotR = f => .5 + Math.sqrt(f / 100) * 4.8;
dotRows.forEach((name, r) => {
  const line = add(panelC, "line", {x1: 94.5, x2: 477, y1: dotY(r), y2: dotY(r), stroke: "#ececec", "stroke-width": 1.3});
  
  
  const t = add(panelC, "text", {x: 88.5, y: dotY(r), "text-anchor": "end", "dominant-baseline": "central", "font-size": 8.5, fill: "#222"}, name);
  
  
});
dotGenes.forEach((name, g) => {
  const line = add(panelC, "line", {x1: dotX(g), x2: dotX(g), y1: 502, y2: 732.7, stroke: "#ececec", "stroke-width": 1.3});
  
  
  const tx = dotX(g) - 2, ty = 737;
  const t = add(panelC, "text", {x: tx, y: ty, transform: "rotate(-90 " + tx + " " + ty + ")", "text-anchor": "end", "dominant-baseline": "central", "font-size": 8.5, fill: "#222"}, name);
  
  
});
dotRows.forEach((name, r) => {
  dotGenes.forEach((gene, g) => {
    const hit = dotHighlights.find(h => h[0] === r && h[1] === g);
    const f = hit ? hit[2] : dotBaseFraction[g];
    const e = hit ? hit[3] : 0;
    const dot = add(panelC, "circle", {cx: dotX(g), cy: dotY(r), r: dotR(f), fill: lerpStops(meanStops, e), stroke: "#222", "stroke-width": .7});
    
    
  });
});
const dotFrame = add(panelC, "rect", {x: 94.5, y: 501.7, width: 382.5, height: 231, fill: "none", stroke: "#333", "stroke-width": 1.4});


fractionTicks.forEach((f, i) => {
  const x = [495.7, 509.6, 524.7, 540.3, 559.4][i];
  const d = add(panelC, "circle", {cx: x, cy: 586.7, r: dotR(f), fill: "#777", stroke: "#222", "stroke-width": .7});
  
  
  const t = add(panelC, "text", {x: x, y: 602, "text-anchor": "middle", "dominant-baseline": "central", "font-size": 8.5, fill: "#222"}, f);
  
  
});
meanTicks.forEach(m => {
  const t = add(panelC, "text", {x: 492.6 + m * 49.3, y: 677, "text-anchor": "middle", "dominant-baseline": "central", "font-size": 8, fill: "#222"}, m.toFixed(1));
  
  
});

/* ---------- Panel D feature plots ---------- */
const featureGenes = ["SLC5A12","SLC13A1","VCAM1","CFH","NPHS1","NPHS2"];
const featureFilledClusters = [[["PT",3.3]],[["PT",3.4],["PT_VCAM1",3.6]],[],[],[],[]];
/* spots per gene: u, v, radius, expression */
const spotsSLC5A12 = [[1.5,11.4,1,2.2],[3,11.3,.9,1.4],[-0.7,-7,.6,2.5],[8.7,-3.6,.6,1.5],[2.6,-4.6,.3,2.5],[-13,-1.8,.4,2],[1,-6.7,.4,2.5]];
const spotsSLC13A1 = [[-1.5,11.8,.9,0],[1.5,12.4,.4,0],[-0.7,-7,.6,2.5],[-13,-1.8,.4,2],[2.6,-5.4,.3,2.5]];
const spotsVCAM1 = [[2,11.8,.8,3.2],[3,11.5,.9,3.6],[1.2,11.3,.5,2.5],[-12.5,4.7,.6,2.5],[8.5,5.7,.7,4],[12.4,3.4,.6,4],[12.9,2.4,.5,3.4],[12.2,1.7,.3,2],[9,-3.2,.7,1.5]];
const spotsCFH = [[6.7,3.2,.7,4.5],[11.8,2.9,1,3.2],[12,2,.8,3],[8.15,-3.5,.9,3],[8.2,-2,.5,2.2],[8.15,-6.3,.7,2.4],[12.7,-2.2,.5,3],[-1,-7.2,.5,2.4],[-4,-5.7,.4,2]];
const spotsNPHS1 = [[-2.5,12,.4,2.4],[-1,11,.5,2.5],[-0.2,12,.3,2.5],[11.9,3,.7,3.2],[12.2,1.6,.5,3],[13.4,-2.8,.9,4],[13.5,-3.9,.7,3.8],[-0.9,-6.9,.6,3],[3.2,-6.4,.3,2.5],[6.5,.9,.6,2.5],[2.2,-.1,.3,2]];
const spotsNPHS2 = [[-2.2,11.7,.5,3],[13.4,-2.9,1,4],[13.6,-3.8,.7,3.8],[12.2,1.3,.5,3],[5.9,2.5,.3,2.5],[4,-5.9,.2,2.5]];
const featureSpots = [spotsSLC5A12,spotsSLC13A1,spotsVCAM1,spotsCFH,spotsNPHS1,spotsNPHS2];
const featureTicks = [0,1,2,3,4,5,6];
const featureStops = [[0,208,208,208],[3,237,138,112],[6,232,20,26]];
const panelD = document.getElementById("panel-d");
const featureLeft = [90.7,209,327,90.7,209,327];
const featureTop = [844.3,844.3,844.3,1022.7,1022.7,1022.7];
featureGenes.forEach((gene, i) => {
  const px = featureLeft[i], py = featureTop[i];
  const fx = u => px + 63.1 + 3.04 * u;
  const fy = v => py + 43 - 3.15 * v;
  const g = add(panelD, "g", {});
  
  
  const title = add(g, "text", {x: px + 54.5, y: py - 13.5, "text-anchor": "middle", "dominant-baseline": "central", "font-size": 13.3, fill: "#222"}, gene);
  
  
  umapOutlines.forEach((pts, k) => {
    const name = umapDrawOrder[k];
    const filled = featureFilledClusters[i].find(f => f[0] === name);
    const col = filled ? lerpStops(featureStops, filled[1]) : "#cfcfcf";
    const b = add(g, "path", {d: blobPath(pts, fx, fy), fill: col, stroke: col, "stroke-width": 4.6, "stroke-linejoin": "round"});
    
    
  });
  featureSpots[i].forEach(s => {
    const sp = add(g, "ellipse", {cx: fx(s[0]), cy: fy(s[1]), rx: s[2] * 3.04, ry: s[2] * 3.15, fill: lerpStops(featureStops, s[3])});
    
    
  });
  const frame = add(g, "rect", {x: px, y: py, width: 109.3, height: 109, fill: "none", stroke: "#555", "stroke-width": 1.1});
  
  
  const up = add(g, "path", {d: "M" + (px + 14) + "," + (py + 94) + "V" + (py + 77), stroke: "#000", "stroke-width": 1.4, fill: "none", "marker-end": "url(#arrow-head)"});
  
  
  const right = add(g, "path", {d: "M" + (px + 14) + "," + (py + 94) + "H" + (px + 31), stroke: "#000", "stroke-width": 1.4, fill: "none", "marker-end": "url(#arrow-head)"});
  
  
  const u2 = add(g, "text", {x: px + 5, y: py + 81, transform: "rotate(-90 " + (px + 5) + " " + (py + 81) + ")", "text-anchor": "middle", "dominant-baseline": "central", "font-size": 10.5, "font-style": "italic", fill: "#111"}, "UMAP2");
  
  
  const u1 = add(g, "text", {x: px + 27, y: py + 105, "text-anchor": "middle", "dominant-baseline": "central", "font-size": 10.5, "font-style": "italic", fill: "#111"}, "UMAP1");
  
  
});
[858, 1036.7].forEach(top => {
  featureTicks.forEach(k => {
    const t = add(panelD, "text", {x: 492, y: top + 106 - k * 17.8, "dominant-baseline": "central", "font-size": 13, fill: "#222"}, k);
    
    
  });
});

/* ---------- Panel E ---------- */
const eTicksX = [-15,-10,-5,0,5,10,15];
const eTicksY = [-10,-5,0,5,10];
/* Scissor+ cell patches: u, v, radius */
const scissorPlusSpots = [[0.75,3.69,.6],[0.45,3.4,.4],[1.1,3.4,.35],[3.8,3.85,.5],[3.4,3.5,.3],[1.8,3.2,.2],[2.3,2.8,.2],[2.7,2.4,.2],[3.0,2.0,.15],[3.5,1.7,.12],[12.7,3.3,.4],[12.8,2.8,.35],[12.5,2.3,.3],[12.42,4.04,.18],[4.2,11.4,.3],[4.2,10.9,.25],[4.2,10.3,.2],[3.9,12.0,.2],[-0.6,-7.2,.55],[-0.2,-6.95,.6],[0.4,-6.85,.6],[1.0,-6.9,.5],[1.7,-6.7,.4],[2.3,-6.0,.35],[3.0,-5.6,.45],[3.8,-5,.45],[4.5,-4,.4],[-1.2,-7.4,.3],[-3,-7,.2],[-2,-7.3,.2],[3.0,-1.6,.2],[3.9,-2.5,.2],[2.4,-1.2,.15],[4.4,-3.4,.2],[4.0,-4.4,.2],[-5.4,-3.4,.22],[-5.0,-4.5,.16],[-5.0,-5.5,.16],[-4.3,-6.3,.16],[-5.6,-3.2,.14],[-1,-12.9,.55],[-0.4,-12.8,.55],[-1.7,-12.3,.5],[-1.5,-12,.8],[-2.5,-11.3,.6],[-0.3,-12.2,.7],[0.4,-11.6,.3],[0.8,-11.5,.2],[-3,-11,.3],[-3.4,-10.5,.25],[-1.5,-10.3,.25],[-1.1,-9.6,.18],[-0.3,-11,.25],[-2,-10.8,.25],[-4,-10,.18],[-13.7,-1.9,.15],[8.8,-3.5,.25],[8.9,-4.6,.1],[12,8,.12]];
const panelE = document.getElementById("panel-e");
const ex = u => 819.8 + 12.92 * u;
const ey = v => 979 - 11.3 * v;
umapOutlines.forEach((pts, i) => {
  const name = umapDrawOrder[i];
  const b = add(panelE, "path", {d: blobPath(pts, ex, ey), fill: "#c8c8c8", stroke: "#cfcfcf", "stroke-width": 1.2, "stroke-linejoin": "round"});
  
  
  const s = add(panelE, "path", {d: blobPath(pts, ex, ey), fill: "url(#speck-e)"});
  
  
});
const blueRegion = add(panelE, "path", {d: blobPath(outlinePT, ex, ey), fill: "url(#blue-dots)"});


strayDCT.forEach(p => {
  const d = add(panelE, "circle", {cx: ex(p[0]), cy: ey(p[1]), r: 1, fill: "#c2c2c2"});
  
  
});
scissorPlusSpots.forEach(s => {
  const e = add(panelE, "ellipse", {cx: ex(s[0]), cy: ey(s[1]), rx: s[2] * 12.92, ry: s[2] * 11.3, fill: "url(#red-dots)"});
  
  
});
const eyAxis = add(panelE, "line", {x1: 625.4, x2: 625.4, y1: 817.7, y2: 1144.3, stroke: "#333", "stroke-width": 1});


const exAxis = add(panelE, "line", {x1: 625, x2: 1024, y1: 1144.3, y2: 1144.3, stroke: "#999", "stroke-width": 2});


eTicksX.forEach(k => {
  const t = add(panelE, "text", {x: ex(k), y: 1155.5, "text-anchor": "middle", "dominant-baseline": "central", "font-size": 11, fill: "#222"}, String(k).replace("-", "−"));
  
  
});
eTicksY.forEach(k => {
  const t = add(panelE, "text", {x: 619, y: ey(k), "text-anchor": "end", "dominant-baseline": "central", "font-size": 11, fill: "#222"}, String(k).replace("-", "−"));
  
  
});

/* ---------- Panel F ---------- */
const fTicks = [0,.25,.5,.75,1];
const fGroups = ["Scissor+","Scissor−"];
const panelF = document.getElementById("panel-f");
const fy = s => 819.3 + 318 * s;
const fCenters = [1256.8, 1342.4];
[.125,.375,.625,.875].forEach(s => {
  const l = add(panelF, "line", {x1: 1205, x2: 1393.6, y1: fy(s), y2: fy(s), stroke: "#fff", "stroke-width": .6});
  
  
});
fTicks.forEach(s => {
  const l = add(panelF, "line", {x1: 1205, x2: 1393.6, y1: fy(s), y2: fy(s), stroke: "#fff", "stroke-width": 1.2});
  
  
  const t = add(panelF, "text", {x: 1199, y: fy(s), "text-anchor": "end", "dominant-baseline": "central", "font-size": 11, fill: "#333"}, s.toFixed(2));
  
  
});
[countScissorPlus, countScissorMinus].forEach((counts, b) => {
  const vg = add(panelF, "line", {x1: fCenters[b], x2: fCenters[b], y1: 803.3, y2: 1153.3, stroke: "#fff", "stroke-width": 1.2});
  
  
  const total = counts.reduce((a, c) => a + c, 0);
  let acc = 0;
  for (let i = cellTypes.length - 1; i >= 0; i--) {
    if (!counts[i]) continue;
    const share = counts[i] / total;
    const r = add(panelF, "rect", {x: fCenters[b] - (b ? 28 : 26.8), y: fy(acc), width: b ? 56 : 53.6, height: share * 318, fill: typeColors[i]});
    
    
    acc += share;
  }
  const tick = add(panelF, "line", {x1: fCenters[b], x2: fCenters[b], y1: 1153.3, y2: 1156.5, stroke: "#333", "stroke-width": .8});
  
  
  const t = add(panelF, "text", {x: fCenters[b], y: 1165, "text-anchor": "middle", "dominant-baseline": "central", "font-size": 11, fill: "#333"}, fGroups[b]);
  
  
});
cellTypes.forEach((name, i) => {
  const y = 830.7 + i * 24.11;
  const bg = add(panelF, "rect", {x: 1418, y: y - 12, width: 22, height: 24, fill: "#f2f2f2"});
  
  
  const k = add(panelF, "rect", {x: 1418, y: y - 11, width: 22, height: 22, fill: typeColors[i]});
  
  
  const t = add(panelF, "text", {x: 1448, y: y, "dominant-baseline": "central", "font-size": 12.3, fill: "#222"}, name);
  
  
});

/* ---------- Panel G ---------- */
const balloonColumns = ["0","Scissor−","Scissor+"];
const panelG = document.getElementById("panel-g");
const tableCols = [271, 359.6, 448.2, 537];
const tableTop = 1255.3, tableRowH = 25.7;
const valueCenters = [315.5, 405, 495];
const rowTotals = cellTypes.map((_, i) => countUnassigned[i] + countScissorMinus[i] + countScissorPlus[i]);
const grandTotal = rowTotals.reduce((a, c) => a + c, 0);
const gBarX = c => 71.8 + 175.5 * c / grandTotal;
let cumulative = 0;
cellTypes.forEach((name, i) => {
  const y = tableTop + i * tableRowH;
  const bar = add(panelG, "rect", {x: gBarX(cumulative), y: y, width: gBarX(cumulative + rowTotals[i]) - gBarX(cumulative), height: tableRowH, fill: "#d3d3d3"});
  
  
  cumulative += rowTotals[i];
  const t = add(panelG, "text", {x: 160, y: y + tableRowH / 2, "text-anchor": "middle", "dominant-baseline": "central", "font-size": 8.8, fill: "#222"}, name);
  
  
  [countUnassigned, countScissorMinus, countScissorPlus].forEach((col, c) => {
    if (!col[i]) return;
    const v = add(panelG, "text", {x: valueCenters[c], y: y + tableRowH / 2, "text-anchor": "middle", "dominant-baseline": "central", "font-size": 8.8, "font-weight": 700, fill: "#111"}, col[i]);
    
    
  });
  const tot = add(panelG, "text", {x: 610, y: y + tableRowH / 2, "text-anchor": "end", "dominant-baseline": "central", "font-size": 8.5, fill: "#333"}, rowTotals[i]);
  
  
  const rowLine = add(panelG, "line", {x1: 271, x2: 537, y1: y, y2: y, stroke: "#444", "stroke-width": 1});
  
  
});
const tableBottomY = tableTop + 15 * tableRowH;
const tableBottom = add(panelG, "line", {x1: 271, x2: 537, y1: tableBottomY, y2: tableBottomY, stroke: "#444", "stroke-width": 1});


tableCols.forEach(x => {
  const l = add(panelG, "line", {x1: x, x2: x, y1: tableTop, y2: tableBottomY, stroke: "#444", "stroke-width": 1});
  
  
});
const gLeft = add(panelG, "line", {x1: 71.8, x2: 71.8, y1: tableTop, y2: tableBottomY, stroke: "#aaa", "stroke-width": 1});


const gRight = add(panelG, "line", {x1: 249, x2: 249, y1: tableTop, y2: tableBottomY, stroke: "#666", "stroke-width": 1});


const gHeadBar = add(panelG, "rect", {x: 271, y: 1226.7, width: 88.6, height: 21, fill: "#cfcfcf"});


const gTop = add(panelG, "line", {x1: 271, x2: 537, y1: 1223.3, y2: 1223.3, stroke: "#777", "stroke-width": 1.2});


const gHeadBottom = add(panelG, "line", {x1: 271, x2: 537, y1: 1249, y2: 1249, stroke: "#666", "stroke-width": 1.2});


[countUnassigned, countScissorMinus, countScissorPlus].forEach((col, c) => {
  const head = add(panelG, "text", {x: (tableCols[c] + tableCols[c + 1]) / 2, y: 1236.3, "text-anchor": "middle", "dominant-baseline": "central", "font-size": 8.5, fill: "#333"}, balloonColumns[c]);
  
  
  const sum = col.reduce((a, v) => a + v, 0);
  const t = add(panelG, "text", {x: valueCenters[c], y: 1645, "text-anchor": "middle", "dominant-baseline": "central", "font-size": 8.5, fill: "#333"}, sum);
  
  
});
const grand = add(panelG, "text", {x: 610, y: 1645, "text-anchor": "end", "dominant-baseline": "central", "font-size": 8.5, fill: "#333"}, grandTotal);



/* ---------- Panel H ---------- */
const barOrder = ["PT","TAL(CLDN16−)","DCT","PC","PT_VCAM1","TAL(CLDN16+)","ICA","DTL","PODO","PEC","LEUK","ICB","ENDO","FIB_MES","Plasma"];
const barTicks = [0,200,400,600];
const panelH = document.getElementById("panel-h");
const hy = n => 1588 - n * .5762;
const hx = i => 740.2 + i * 49.89;
barTicks.forEach(k => {
  const l = add(panelH, "line", {x1: 710.4, x2: 1469, y1: hy(k), y2: hy(k), stroke: "#dedede", "stroke-width": 1.3});
  
  
  const t = add(panelH, "text", {x: 705.5, y: hy(k), "text-anchor": "end", "dominant-baseline": "central", "font-size": 8.5, fill: "#4d4d4d"}, k);
  
  
});
barOrder.forEach((name, i) => {
  const idx = cellTypes.indexOf(name);
  const plus = countScissorPlus[idx], minus = countScissorMinus[idx];
  if (minus) {
    const b = add(panelH, "rect", {x: hx(i) - 22.5, y: hy(minus), width: 45, height: Math.max(.8, minus * .5762), fill: "#155f8c", "fill-opacity": minus < 5 ? .5 : 1});
    
    
  }
  if (plus) {
    const b = add(panelH, "rect", {x: hx(i) - 22.5, y: hy(plus), width: 45, height: Math.max(.8, plus * .5762), fill: "#bc2c2a", "fill-opacity": plus < 2 ? .5 : 1});
    
    
  }
  const m = add(panelH, "line", {x1: hx(i), x2: hx(i), y1: 1605, y2: 1607, stroke: "#555", "stroke-width": .8});
  
  
  const t = add(panelH, "text", {x: hx(i), y: 1612.3, "text-anchor": "middle", "dominant-baseline": "central", "font-size": 8.4, fill: "#4d4d4d"}, name);
  
  
});
</script>
</body>
</html>
